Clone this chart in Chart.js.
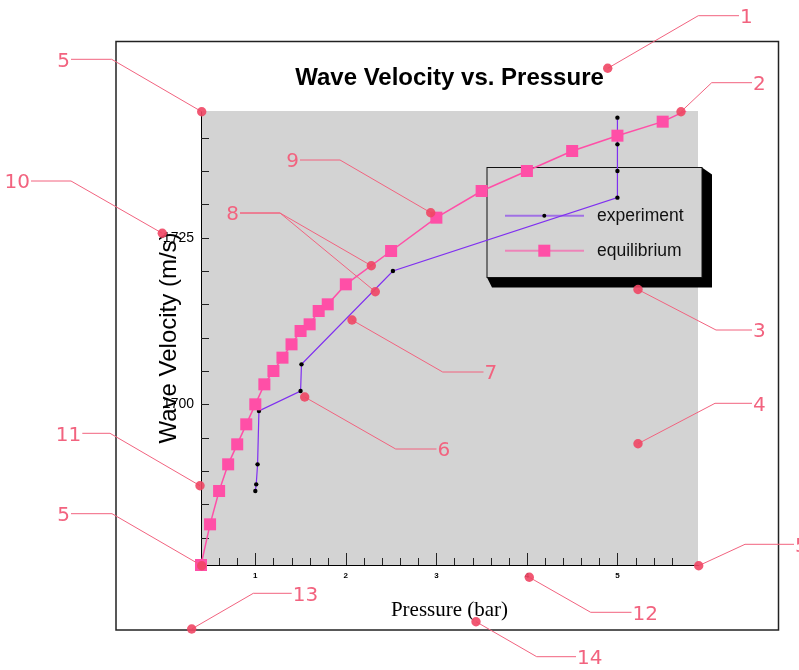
<!DOCTYPE html>
<html>
<head>
<meta charset="utf-8">
<title>Wave Velocity vs. Pressure</title>
<script src="https://cdn.jsdelivr.net/npm/chart.js@4.4.0/dist/chart.umd.min.js"></script>
<style>
  html, body { margin: 0; padding: 0; background: #fff; }
  #wrap { width: 799px; height: 670px; }
</style>
</head>
<body>
<div id="wrap"><canvas id="line-chart" width="799" height="670"></canvas></div>
<script>
// experiment (measured)
var expPressure = [1.0, 1.01, 1.025, 1.04, 1.5, 1.51, 2.52, 5.0, 5.0, 5.0, 5.0];
var expVelocity = [1687, 1688, 1691, 1699, 1702, 1706, 1720, 1731, 1735, 1739, 1743];

// equilibrium curve, last point runs off the top of the plot
var eqPressure = [0.4, 0.5, 0.6, 0.7, 0.8, 0.9, 1.0, 1.1, 1.2, 1.3, 1.4, 1.5, 1.6, 1.7, 1.8, 2.0, 2.5, 3.0, 3.5, 4.0, 4.5, 5.0, 5.5, 6.0];
var eqVelocity = [1675.9, 1682, 1687, 1691, 1694, 1697, 1700, 1703, 1705, 1707, 1709, 1711, 1712, 1714, 1715, 1718, 1723, 1728, 1732, 1735, 1738, 1740.3, 1742.4, 1745.6];

// axis ranges / labelled ticks
var xRange = [0.4, 5.89];
var yRange = [1675.9, 1744.0];
var yLabelStep = 25;

var SANS = '"Liberation Sans", Arial, sans-serif';
var PURPLE = '#7f2ff0';
var PINK = '#ff4fa7';
var NOTE = '#f2637f';

function pts(xs, ys) {
  return xs.map(function(x, i) { return {x: x, y: ys[i]}; });
}

// callout notes drawn over the figure: dot, elbow, end of leader, text, side
var callouts = [
  [607.7, 68.3, 698.3, 15.7, 739, '1', 'r'],
  [681, 111.7, 711.7, 82.7, 752, '2', 'r'],
  [638, 289.5, 716, 330, 752, '3', 'r'],
  [638, 443.7, 715, 403.3, 752, '4', 'r'],
  [698.7, 565.7, 745, 544.3, 794, '5', 'r'],
  [304.7, 397, 395.7, 449, 436.5, '6', 'r'],
  [352, 320, 442.7, 372, 483.5, '7', 'r'],
  [529.3, 577.3, 590.7, 612.3, 631.5, '12', 'r'],
  [191.7, 629, 253.3, 593.3, 291.7, '13', 'r'],
  [476, 621.7, 536.7, 656.7, 576, '14', 'r'],
  [201.7, 111.7, 111.7, 59.3, 71, '5', 'l'],
  [162.3, 233.3, 71, 181, 31, '10', 'l'],
  [200, 485.7, 110, 433.3, 82.3, '11', 'l'],
  [201.7, 565.7, 112, 513.7, 71, '5', 'l'],
  [430.7, 212.7, 340, 160, 300, '9', 'l'],
  [371.3, 265.7, 280, 213, 240, '8', 'l'],
  [375.3, 291.7, 280, 213, 240, '', 'l']
];

var decor = {
  id: 'decor',
  beforeDraw: function(chart) {
    var ctx = chart.ctx, a = chart.chartArea;
    ctx.save();
    ctx.fillStyle = '#fff';
    ctx.fillRect(0, 0, chart.width, chart.height);
    ctx.strokeStyle = '#222';
    ctx.lineWidth = 1.5;
    ctx.strokeRect(116, 41.5, 662.5, 588.5);
    ctx.fillStyle = '#d3d3d3';
    ctx.fillRect(a.left, a.top, a.right - a.left, a.bottom - a.top);
    ctx.restore();
  },
  beforeDatasetsDraw: function(chart) {
    var ctx = chart.ctx, a = chart.chartArea;
    var xs = chart.scales.x, ys = chart.scales.y;
    ctx.save();
    // inward tick marks
    ctx.strokeStyle = '#222';
    ctx.lineWidth = 1;
    xs.ticks.forEach(function(t) {
      var k = Math.round(t.value * 5);
      if (Math.abs(t.value * 5 - k) > 1e-6) return;
      var px = Math.round(xs.getPixelForValue(t.value)) + 0.5;
      var len = (k % 5 === 0) ? 12 : 7;
      ctx.beginPath();
      ctx.moveTo(px, a.bottom);
      ctx.lineTo(px, a.bottom - len);
      ctx.stroke();
    });
    ys.ticks.forEach(function(t) {
      if (Math.abs(t.value / 5 - Math.round(t.value / 5)) > 1e-6) return;
      var py = Math.round(ys.getPixelForValue(t.value)) + 0.5;
      ctx.beginPath();
      ctx.moveTo(a.left, py);
      ctx.lineTo(a.left + 8, py);
      ctx.stroke();
    });

    // legend box with drop shadow
    var lx = 487, ly = 167.5, lw = 215, lh = 110;
    ctx.fillStyle = '#000';
    ctx.beginPath();
    ctx.moveTo(lx + lw, ly);
    ctx.lineTo(lx + lw + 10, ly + 7);
    ctx.lineTo(lx + lw + 10, ly + lh + 10);
    ctx.lineTo(lx + 5, ly + lh + 10);
    ctx.lineTo(lx, ly + lh);
    ctx.closePath();
    ctx.fill();
    ctx.fillStyle = '#d3d3d3';
    ctx.fillRect(lx, ly, lw, lh);
    ctx.strokeStyle = '#111';
    ctx.lineWidth = 1;
    ctx.strokeRect(lx, ly, lw, lh);

    var rows = [215.7, 250.7];
    chart.data.datasets.forEach(function(ds, i) {
      var y = rows[i];
      ctx.globalAlpha = 0.6;
      ctx.strokeStyle = ds.borderColor;
      ctx.lineWidth = 2;
      ctx.beginPath();
      ctx.moveTo(505, y);
      ctx.lineTo(584, y);
      ctx.stroke();
      ctx.globalAlpha = 1;
      if (ds.pointStyle === 'rect') {
        ctx.fillStyle = ds.backgroundColor;
        ctx.fillRect(538.3, y - 6, 12, 12);
      } else {
        ctx.fillStyle = '#000';
        ctx.beginPath();
        ctx.arc(544.3, y, 2, 0, Math.PI * 2);
        ctx.fill();
      }
      ctx.fillStyle = '#111';
      ctx.font = '17.5px ' + SANS;
      ctx.textBaseline = 'middle';
      ctx.textAlign = 'left';
      ctx.fillText(ds.label, 597, y);
    });
    ctx.restore();
  },
  afterDraw: function(chart) {
    var ctx = chart.ctx;
    ctx.save();
    ctx.font = '20px "DejaVu Sans", sans-serif';
    ctx.textBaseline = 'alphabetic';
    callouts.forEach(function(c) {
      ctx.strokeStyle = NOTE;
      ctx.lineWidth = 1;
      ctx.beginPath();
      ctx.moveTo(c[0], c[1]);
      ctx.lineTo(c[2], c[3]);
      ctx.lineTo(c[4], c[3]);
      ctx.stroke();
      ctx.fillStyle = 'rgba(240, 70, 100, 0.9)';
      ctx.beginPath();
      ctx.arc(c[0], c[1], 4.7, 0, Math.PI * 2);
      ctx.fill();
      if (c[5]) {
        ctx.fillStyle = NOTE;
        if (c[6] === 'r') {
          ctx.textAlign = 'left';
          ctx.fillText(c[5], c[4] + 1, c[3] + 7.3);
        } else {
          ctx.textAlign = 'right';
          ctx.fillText(c[5], c[4] - 1, c[3] + 7.3);
        }
      }
    });
    ctx.restore();
  }
};

var myLineChart = new Chart(document.getElementById('line-chart'), {
  type: 'scatter',
  data: {
    datasets: [{
      label: 'experiment',
      data: pts(expPressure, expVelocity),
      showLine: true,
      borderColor: PURPLE,
      backgroundColor: PURPLE,
      borderWidth: 1.2,
      pointRadius: 2.2,
      pointBackgroundColor: '#000',
      pointBorderWidth: 0,
      order: 1
    }, {
      label: 'equilibrium',
      data: pts(eqPressure, eqVelocity),
      showLine: true,
      borderColor: PINK,
      backgroundColor: PINK,
      borderWidth: 1.5,
      pointStyle: 'rect',
      pointRadius: eqPressure.map(function(x) { return x > 5.6 ? 0 : 8.5; }),
      pointBackgroundColor: PINK,
      pointBorderWidth: 0,
      clip: {left: 10, bottom: 10, top: 0, right: 0},
      order: 0
    }]
  },
  options: {
    responsive: false,
    animation: false,
    layout: { padding: { left: 0, top: 64.1, right: 101, bottom: 0 } },
    plugins: {
      legend: { display: false },
      tooltip: { enabled: false },
      title: {
        display: true,
        text: 'Wave Velocity vs. Pressure',
        fullSize: false,
        color: '#000',
        font: { family: SANS, size: 24, weight: 'bold' },
        padding: { top: 0, bottom: 18.1 }
      }
    },
    scales: {
      x: {
        type: 'linear',
        min: xRange[0],
        max: xRange[1],
        grid: { display: false, drawTicks: false },
        border: { display: true, color: '#000', width: 1 },
        ticks: {
          stepSize: 0.2,
          autoSkip: false,
          maxRotation: 0,
          padding: 6,
          color: '#000',
          font: { family: SANS, size: 8, weight: 'bold' },
          callback: function(v) {
            return Math.abs(v - Math.round(v)) < 1e-6 ? String(Math.round(v)) : '';
          }
        },
        title: {
          display: true,
          text: 'Pressure (bar)',
          color: '#000',
          font: { family: '"Liberation Serif", "Times New Roman", serif', size: 21 },
          padding: { top: 0, bottom: 47 }
        },
        afterFit: function(s) { s.height = 105; }
      },
      y: {
        type: 'linear',
        min: yRange[0],
        max: yRange[1],
        grid: { display: false, drawTicks: false },
        border: { display: true, color: '#000', width: 1 },
        ticks: {
          stepSize: 5,
          autoSkip: false,
          padding: 7,
          color: '#000',
          font: { family: SANS, size: 14 },
          callback: function(v) {
            return Math.abs(v / yLabelStep - Math.round(v / yLabelStep)) < 1e-6 ? String(Math.round(v)) : '';
          }
        },
        title: {
          display: true,
          text: 'Wave Velocity (m/s)',
          color: '#000',
          font: { family: SANS, size: 24 },
          padding: { top: 155.4, bottom: 0 }
        },
        afterFit: function(s) { s.width = 201; }
      }
    }
  },
  plugins: [decor]
});
</script>
</body>
</html>
